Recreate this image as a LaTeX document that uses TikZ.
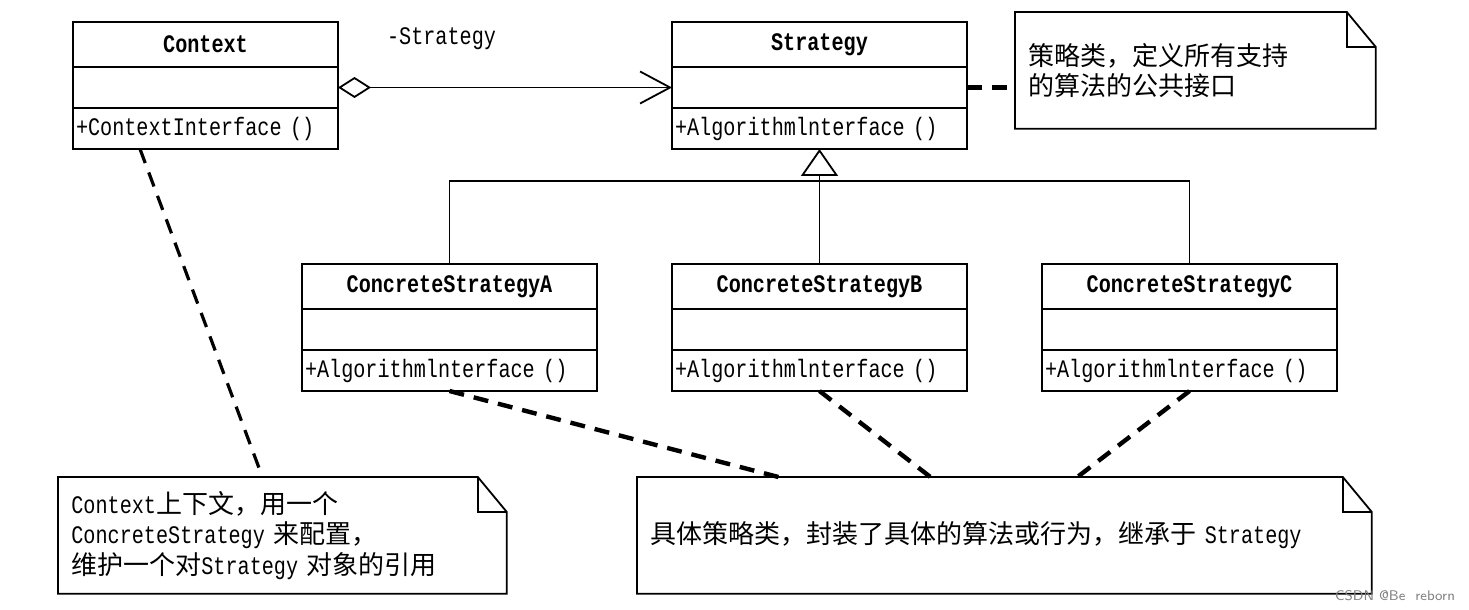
\documentclass[tikz,border=0pt]{standalone}
\usepackage{fontspec}
\setmainfont{Liberation Mono}[FakeStretch=0.8]
\newfontfamily\cjk{Noto Sans CJK SC}
\newcommand{\zh}[1]{{\cjk\fontsize{13pt}{15.25pt}\selectfont #1}}
\newcommand{\umlfont}{\fontsize{12.6pt}{15.25pt}\selectfont}
\usetikzlibrary{positioning,calc,arrows.meta}
\tikzset{
  classpart/.style={
    rectangle,
    draw=black, line width=1.1pt,
    outer sep=0pt, inner xsep=1.5pt,
    minimum width=147.5pt
  },
  classhead/.style={classpart, minimum height=22.5pt, font=\umlfont\bfseries},
  classattr/.style={classpart, minimum height=20.5pt},
  classop/.style={classpart, minimum height=20.5pt, text width=144.5pt, align=left},
  umlnote/.style={
    rectangle,
    minimum height=58pt, inner xsep=6.5pt,
    align=left, anchor=north west
  },
  notelink/.style={-, line width=2.2pt, dash pattern=on 7.5pt off 5pt},
  genline/.style={line width=0.8pt},
}
\newcommand{\notebox}[1]{%
  \draw[line width=0.9pt] (#1.north west) -- ([xshift=-14.5pt]#1.north east)
    -- ([yshift=-17.5pt]#1.north east) -- (#1.south east) -- (#1.south west) -- cycle;
  \draw[line width=0.9pt] ([xshift=-14.5pt]#1.north east) |- ([yshift=-17.5pt]#1.north east);
}

\begin{document}
\begin{tikzpicture}[x=0.5pt,y=-0.5pt,font=\umlfont]
\useasboundingbox (0,0) rectangle (1469,610);

% context class
\node[classhead, minimum width=132.5pt, anchor=north west] (CTX) at (73,22) {Context};
\node[classattr, minimum width=132.5pt, below=0pt of CTX] (CTXATTR) {};
\node[classop, minimum width=132.5pt, text width=129.5pt, below=0pt of CTXATTR] (CTXOP) {+ContextInterface ()};

% strategy class
\node[classhead, right=167pt of CTX.north east, anchor=north west] (STR) {Strategy};
\node[classattr, below=0pt of STR] (STRATTR) {};
\node[classop, below=0pt of STRATTR] (STROP) {+Algorithmlnterface ()};

% concrete strategies
\node[classhead, below=57.5pt of STROP] (CSB) {ConcreteStrategyB};
\node[classattr, below=0pt of CSB] (CSBATTR) {};
\node[classop, below=0pt of CSBATTR] (CSBOP) {+Algorithmlnterface ()};

\node[classhead, left=37.5pt of CSB] (CSA) {ConcreteStrategyA};
\node[classattr, below=0pt of CSA] (CSAATTR) {};
\node[classop, below=0pt of CSAATTR] (CSAOP) {+Algorithmlnterface ()};

\node[classhead, right=37.5pt of CSB] (CSC) {ConcreteStrategyC};
\node[classattr, below=0pt of CSC] (CSCATTR) {};
\node[classop, below=0pt of CSCATTR] (CSCOP) {+Algorithmlnterface ()};

% notes
\node[umlnote, text width=167pt] (STRNOTE) at (1015,12) {\zh{策略类，定义所有支持}\\\zh{的算法的公共接口}};
\notebox{STRNOTE}
\node[umlnote, text width=211pt] (CTXNOTE) at (58,477) {Context\zh{上下文，用一个}\\ConcreteStrategy \zh{来配置，}\\\zh{维护一个对}Strategy \zh{对象的引用}};
\notebox{CTXNOTE}
\node[umlnote, text width=354pt] (CSNOTE) at (637,477) {\zh{具体策略类，封装了具体的算法或行为，继承于} Strategy};
\notebox{CSNOTE}

\draw[line width=0.8pt, {Diamond[open, length=16.5pt, width=10.5pt, line width=0.9pt]}-{Straight Barb[length=15pt, width=16pt, line width=0.9pt]}]
  (CTXATTR.east) -- node[pos=0.31, above=15pt](){-Strategy} (STRATTR.west);

\coordinate[above=41.5pt of CSB.north] (JOIN);
\draw[genline] (CSA.north) |- (JOIN) -| (CSC.north);
\draw[genline, -{Triangle[open, length=13.5pt, width=18.5pt, line width=0.9pt]}] (CSB.north) -- (STROP.south);

\draw[notelink] (STRATTR.east) -- (STRATTR.east -| STRNOTE.west);
\draw[notelink, line width=1.6pt] ([xshift=-32.75pt]CTXOP.south) -- ([xshift=-10pt]CTXNOTE.north);
\draw[notelink] (CSAOP.south) -- ([xshift=-113pt]CSNOTE.north);
\draw[notelink] (CSBOP.south) -- ([xshift=-37pt]CSNOTE.north);
\draw[notelink] (CSCOP.south) -- ([xshift=36.5pt]CSNOTE.north);

\node[font=\fontsize{7pt}{8pt}\sffamily, text=gray, anchor=east] (MARK) at (1462,596) {CSDN @Be\ \ reborn};
\end{tikzpicture}
\end{document}
